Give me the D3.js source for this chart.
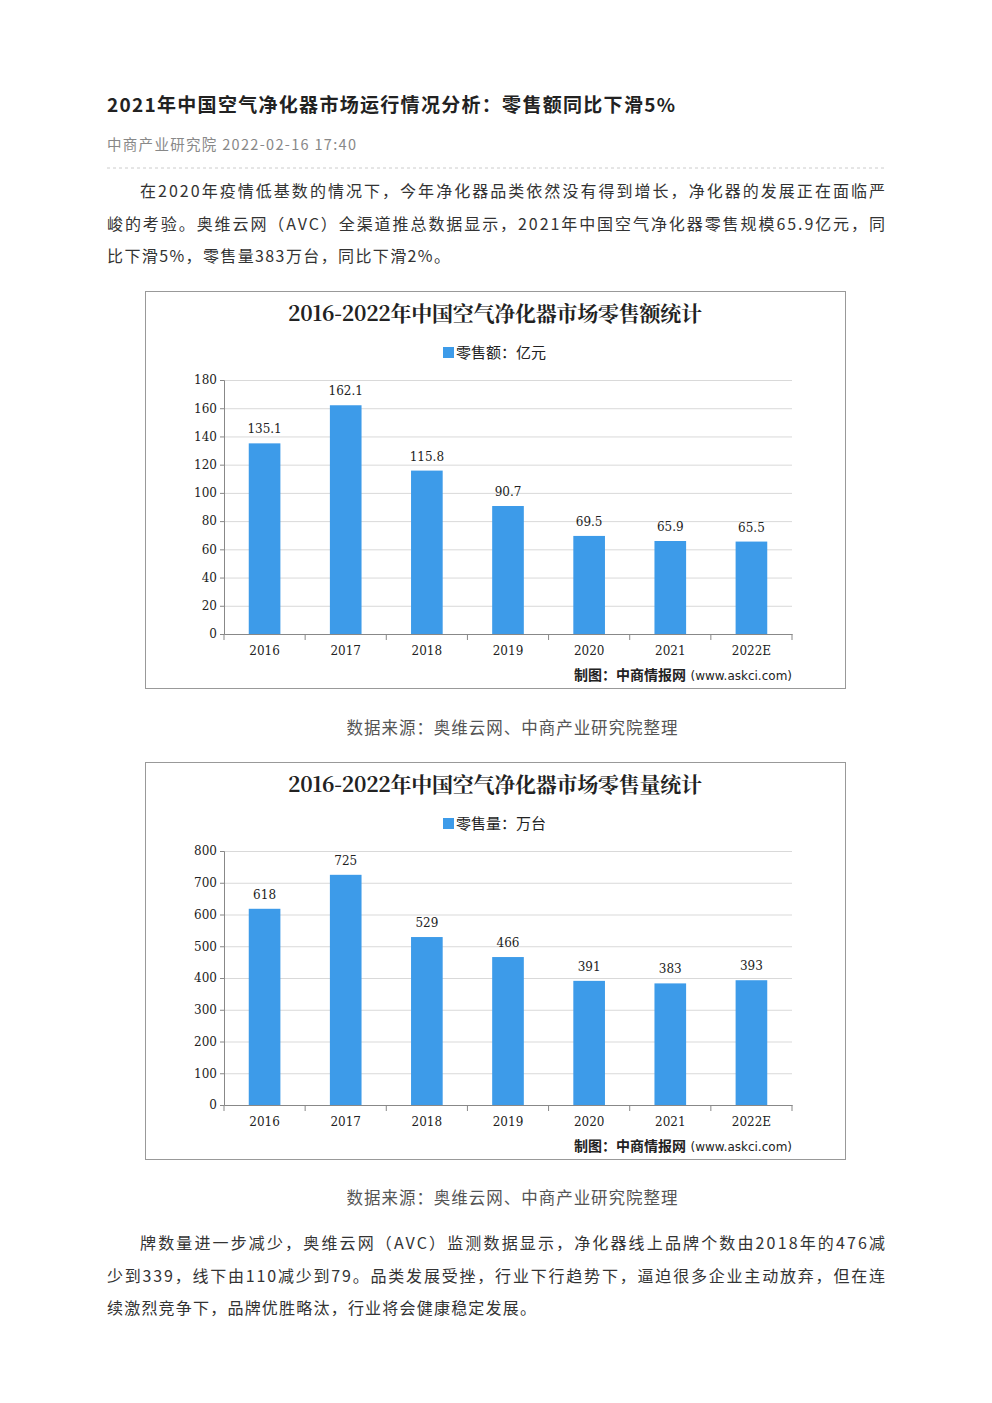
<!DOCTYPE html>
<html><head><meta charset="utf-8">
<script src="https://cdn.jsdelivr.net/npm/d3@7"></script>
<style>
body{margin:0;background:#fff;font-family:"Noto Sans CJK SC","Noto Sans",sans-serif;}
</style></head><body>
<svg id="s" width="992" height="1403"></svg>
<script>
const categories=["2016","2017","2018","2019","2020","2021","2022E"];
const salesValue=[135.1,162.1,115.8,90.7,69.5,65.9,65.5];
const salesVolume=[618,725,529,466,391,383,393];
const valueTicks=[0,20,40,60,80,100,120,140,160,180];
const volumeTicks=[0,100,200,300,400,500,600,700,800];

const svg=d3.select("#s");
const F='"Noto Sans CJK SC",sans-serif';
svg.append("text").attr("x",107).attr("y",112).attr("font-size",19).attr("font-weight","bold").attr("fill","#222").attr("font-family",F).attr("textLength",568)
 .text("2021年中国空气净化器市场运行情况分析：零售额同比下滑5%");
svg.append("text").attr("x",107).attr("y",150).attr("font-size",14.5).attr("fill","#888").attr("font-family",F).attr("textLength",249).text("中商产业研究院 2022-02-16 17:40");
svg.append("line").attr("x1",107).attr("x2",885).attr("y1",168).attr("y2",168).attr("stroke","#ccc").attr("stroke-dasharray","3,3");
function para(lines,y0){lines.forEach((t,i)=>svg.append("text").attr("x",i===0?140:107).attr("y",y0+i*32.5).attr("font-size",16).attr("fill","#333").attr("font-family",F).attr("textLength",t.w||null).text(t.s));}
para([{s:"在2020年疫情低基数的情况下，今年净化器品类依然没有得到增长，净化器的发展正在面临严",w:745},{s:"峻的考验。奥维云网（AVC）全渠道推总数据显示，2021年中国空气净化器零售规模65.9亿元，同",w:778},{s:"比下滑5%，零售量383万台，同比下滑2%。",w:343}],197);
para([{s:"牌数量进一步减少，奥维云网（AVC）监测数据显示，净化器线上品牌个数由2018年的476减",w:745},{s:"少到339，线下由110减少到79。品类发展受挫，行业下行趋势下，逼迫很多企业主动放弃，但在连",w:778},{s:"续激烈竞争下，品牌优胜略汰，行业将会健康稳定发展。",w:429}],1249);
[734,1204].forEach(y=>svg.append("text").attr("x",512).attr("y",y).attr("text-anchor","middle").attr("font-size",16.5).attr("fill","#555").attr("font-family",F).attr("textLength",331).text("数据来源：奥维云网、中商产业研究院整理"));

function chart(top,title,legend,vals,ticks,max){
 const g=svg.append("g").attr("transform",`translate(0,${top})`);
 g.append("rect").attr("x",145.5).attr("y",0.5).attr("width",700).attr("height",397).attr("fill","#fff").attr("stroke","#999");
 g.append("text").attr("x",495).attr("y",30).attr("text-anchor","middle").attr("font-size",21).attr("font-family","'Noto Serif CJK SC',"+F).attr("font-weight","bold").attr("fill","#222").attr("textLength",414).text(title);
 g.append("rect").attr("x",443).attr("y",56).attr("width",11).attr("height",11).attr("fill","#3d9be9");
 g.append("text").attr("x",456).attr("y",67).attr("font-size",15).attr("fill","#222").attr("font-family",F).text(legend);
 const x=d3.scaleBand().domain(categories).range([224,792]).paddingInner(0.61).paddingOuter(0.305);
 const y=d3.scaleLinear().domain([0,max]).range([343,89]);
 g.selectAll(".gl").data(ticks).join("line").attr("x1",224).attr("x2",792).attr("y1",d=>y(d)+.5).attr("y2",d=>y(d)+.5).attr("stroke","#d9d9d9");
 const ya=g.append("g").attr("transform","translate(224,0)").call(d3.axisLeft(y).tickValues(ticks).tickSize(4).tickFormat(d3.format("d")));
 ya.selectAll("text").attr("font-size",12).attr("fill","#222").attr("font-family","'DejaVu Serif',serif");
 ya.select(".domain").attr("stroke","#888");ya.selectAll(".tick line").attr("stroke","#888");
 const xs=d3.scaleLinear().domain([0,categories.length]).range([224,792]);
 const xa=g.append("g").attr("transform","translate(0,343)").call(d3.axisBottom(x).tickSize(0).tickPadding(12));
 xa.select(".domain").attr("stroke","#888");
 xa.selectAll("text").attr("font-size",12).attr("fill","#222").attr("font-family","'DejaVu Serif',serif");
 g.selectAll(".xt").data(d3.range(categories.length+1)).join("line").attr("x1",d=>xs(d)).attr("x2",d=>xs(d)).attr("y1",343).attr("y2",349).attr("stroke","#888");
 g.selectAll(".b").data(vals).join("rect").attr("x",(d,i)=>x(categories[i])).attr("width",x.bandwidth()).attr("y",d=>y(d)).attr("height",d=>343-y(d)).attr("fill","#3d9be9");
 g.selectAll(".l").data(vals).join("text").attr("x",(d,i)=>x(categories[i])+x.bandwidth()/2).attr("y",d=>y(d)-10).attr("text-anchor","middle").attr("font-size",12).attr("fill","#222").attr("font-family","'DejaVu Serif',serif").text(d=>d);
 g.append("text").attr("x",574).attr("y",389).attr("font-size",14).attr("font-weight","bold").attr("fill","#222").attr("font-family",F).text("制图：中商情报网");
 g.append("text").attr("x",792).attr("y",389).attr("text-anchor","end").attr("font-size",12).attr("fill","#222").attr("font-family","'DejaVu Sans',sans-serif").text("(www.askci.com)");
}
chart(291,"2016-2022年中国空气净化器市场零售额统计","零售额：亿元",salesValue,valueTicks,180);
chart(762,"2016-2022年中国空气净化器市场零售量统计","零售量：万台",salesVolume,volumeTicks,800);
</script></body></html>
